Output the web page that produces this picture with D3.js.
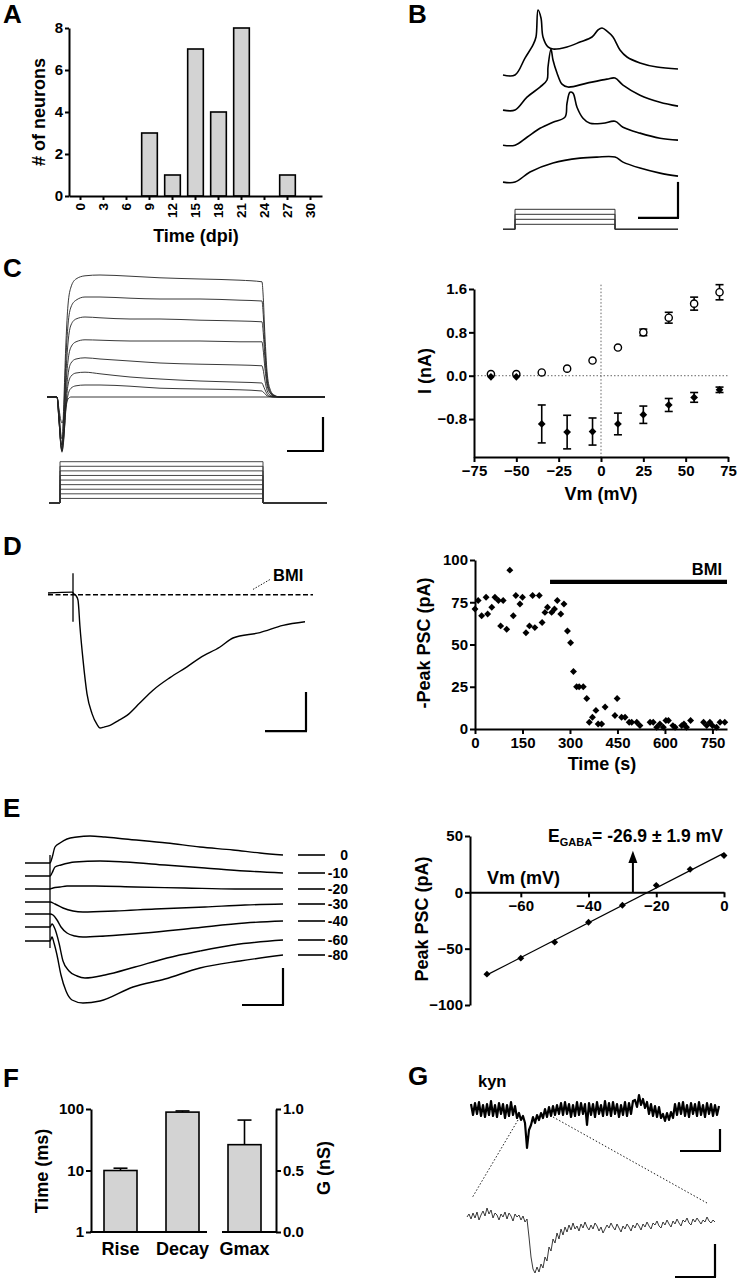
<!DOCTYPE html>
<html><head><meta charset="utf-8">
<script src="https://cdn.jsdelivr.net/npm/d3@7"></script>
<style>
body{margin:0;background:#fff}
svg text{font-family:"Liberation Sans",Arial,Helvetica,sans-serif;font-weight:bold;fill:#000}
</style></head><body>
<svg id="fig" width="737" height="1280" xmlns="http://www.w3.org/2000/svg"></svg>
<script>
// ================= DATA =================
// Panel A: histogram
const aCategories = ["0","3","6","9","12","15","18","21","24","27","30"];
const aCounts = [0,0,0,3,1,7,4,8,0,1,0];
const aYTicks = [0,2,4,6,8];

// Panel B: voltage traces [time ms, mV above own baseline]
const bTrace1 = [[0,0],[24,0],[44,9.4],[60,16.7],[66,21.1],[70,36.1],[76,31.7],[80,21.1],[90,15.6],[100,14.4],[128,15.6],[154,18.3],[178,21.1],[190,25],[198,26.1],[208,24.4],[220,21.1],[234,13.9],[248,10],[274,6.7],[308,4.4],[350,3.3]];
const bTrace2 = [[0,0],[24,0],[48,7.2],[74,12.8],[88,16.7],[90,23.9],[96,33.9],[100,27.8],[108,20.6],[118,14.4],[130,12.8],[168,15],[208,17.2],[224,17.8],[240,13.9],[274,8.3],[314,4.4],[350,2.2]];
const bTrace3 = [[0,0],[24,0],[48,4.4],[74,9.4],[100,12.8],[124,15.6],[128,23.3],[134,29.4],[140,28.9],[148,21.1],[160,15],[174,12.2],[200,12.2],[224,13.3],[240,10],[274,6.7],[314,3.9],[350,2.8]];
const bTrace4 = [[0,0],[24,0],[54,5.6],[100,10.6],[154,13.3],[188,13.9],[224,13.9],[240,11.1],[274,7.8],[314,5],[350,3.3]];
const bOffsets = [0,-19.5,-39,-59.5];
const bSteps = [10,20,30,40];          // injected current steps (pA)
const bStepOn = 24, bStepOff = 224, bEnd = 350;

// Panel C left: current traces, shared time base (ms) and amplitudes (nA)
const cTime = [0,10,12,14,15,16,17,19,21,24,29,38,53,83,113,153,193,215,216,218,220,223,227,233,278];
const cTrace1 = [0,0,-0.6,-1.15,-1.2,-0.7,0.0,1.4,2.3,2.75,2.95,3.03,3.05,3.02,2.98,2.95,2.92,2.88,2.6,1.5,0.65,0.2,0.05,0,0];
const cTrace2 = [0,0,-0.6,-1.2,-1.3,-0.9,-0.3,1.0,1.8,2.25,2.42,2.5,2.5,2.47,2.45,2.45,2.42,2.4,2.15,1.2,0.5,0.15,0.04,0,0];
const cTrace3 = [0,0,-0.6,-1.25,-1.35,-1.1,-0.6,0.6,1.35,1.8,1.95,2.0,1.98,1.95,1.95,1.92,1.9,1.88,1.68,0.95,0.4,0.12,0.03,0,0];
const cTrace4 = [0,0,-0.55,-1.25,-1.38,-1.2,-0.8,0.3,0.9,1.25,1.38,1.43,1.42,1.4,1.4,1.4,1.38,1.38,1.22,0.7,0.3,0.1,0.02,0,0];
const cTrace5 = [0,0,-0.5,-1.2,-1.35,-1.25,-1.0,0.0,0.55,0.85,0.95,0.98,0.95,0.9,0.85,0.82,0.8,0.78,0.7,0.4,0.17,0.05,0.01,0,0];
const cTrace6 = [0,0,-0.45,-1.1,-1.2,-1.15,-0.95,-0.2,0.3,0.52,0.6,0.62,0.58,0.5,0.45,0.4,0.37,0.35,0.3,0.18,0.08,0.02,0,0,0];
const cTrace7 = [0,0,-0.4,-0.95,-1.05,-1.0,-0.85,-0.3,0.05,0.22,0.28,0.3,0.3,0.27,0.22,0.2,0.18,0.15,0.13,0.08,0.03,0.01,0,0,0];
const cTrace8 = [0,0,-0.3,-0.6,-0.65,-0.6,-0.5,-0.2,-0.05,0,0,0,0,0,0,0,0,0,0,0,0,0,0,0,0];
const cSteps = [15,30,45,60,75,90,105,120,135];   // mV above holding
const cStepOn = 13, cStepOff = 216, cStimStart = 2, cStimEnd = 280;

// Panel C right: I-V
const ivVm = [-65,-50,-35,-20,-5,10,25,40,55,70];
const ivOut = [0.03,0.03,0.06,0.13,0.28,0.52,0.80,1.07,1.33,1.54];
const ivOutErr = [0,0,0,0,0,0,0.06,0.10,0.12,0.14];
const ivIn = [-0.02,-0.02,-0.89,-1.04,-1.03,-0.89,-0.72,-0.54,-0.40,-0.26];
const ivInErr = [0,0,0.35,0.31,0.25,0.20,0.16,0.12,0.09,0.05];
const ivXTicks = [-75,-50,-25,0,25,50,75];
const ivYTicks = [-0.8,0,0.8,1.6];

// Panel D left: PSC traces [ms, pA]
const dControl = [[0,0],[24,0.5],[26,-0.5],[28,-1.5],[30,-4],[32,-19],[35,-37],[39,-56],[44,-67],[49,-73],[52,-75],[56,-74.5],[62,-73.5],[70,-71],[79,-68],[92,-61],[105,-54],[122,-47],[139,-41],[152,-36],[172,-30],[185,-25],[212,-22],[235,-18],[257,-16]];
const dBmi = [[0,-1],[265,-1]];
// Panel D right: time course
const dTime = [0,10,21,35,40,53,63,74,81,89,100,110,121,129,142,150,161,172,182,189,203,212,221,229,242,251,260,271,281,292,302,311,321,329,342,353,361,371,382,389,400,411,442,449,463,474,487,495,511,521,553,563,574,584,595,603,611,625,632,653,660,668,681,722,732,742,750,763,774,789];
const dPeak = [71,76,67,78,68,72,78,76,61,76,59,94,67,79,74,78,57,61,79,60,79,63,69,72,69,71,76,68,74,58,51,34,25,25,25,18,4,7,11,3,3,13,8,18,7,7,4,4,4,2,4,4,1,3,1,5,5,2,1,2,3,1,5,4,2,4,2,1,4,4];
const dBmiStart = 237, dBmiLevel = 87;
const dXTicks = [0,150,300,450,600,750];
const dYTicks = [0,25,50,75,100];

// Panel E left: PSCs at holding potentials [ms, pA]
const eLabels = ["0","-10","-20","-30","-40","-60","-80"];
const eTr0  = [[0,0],[25,0],[27,5],[30,16],[35,20],[42,24],[52,26],[65,27],[80,26],[100,24],[142,20],[175,16],[208,13],[235,10],[258,8]];
const eTr10 = [[0,-13],[25,-13],[27,-10],[30,-4],[36,-2],[50,1],[75,2],[100,1],[140,-2],[180,-5],[220,-8],[258,-10]];
const eTr20 = [[0,-26],[25,-26],[28,-25],[35,-24],[42,-23],[70,-23],[110,-24],[160,-25],[210,-26],[258,-26]];
const eTr30 = [[0,-39],[25,-39],[30,-41],[38,-45],[48,-48],[58,-49],[90,-48],[130,-46],[180,-44],[220,-42],[258,-41]];
const eTr40 = [[0,-51],[25,-51],[28,-52],[32,-57],[36,-64],[42,-70],[50,-73],[58,-74],[80,-73],[120,-70],[170,-65],[220,-60],[258,-58]];
const eTr60 = [[0,-64],[25,-64],[27,-61],[30,-66],[34,-80],[38,-98],[44,-108],[52,-113],[60,-115],[80,-112],[110,-104],[142,-95],[175,-88],[208,-82],[258,-77]];
const eTr80 = [[0,-78],[25,-78],[27,-74],[29,-80],[32,-92],[36,-112],[41,-128],[47,-137],[58,-140],[75,-138],[108,-124],[140,-116],[175,-105],[215,-98],[258,-92]];
// Panel E right: peak vs Vm
const eVm = [-70,-60,-50,-40,-30,-20,-10,0];
const ePeak = [-72.6,-58.4,-44.2,-26.5,-11.5,6.2,20.4,32.7];
const eGaba = -26.9;
const eXTicks = [-60,-40,-20,0];
const eYTicks = [-100,-50,0,50];

// Panel F: kinetics
const fCategories = ["Rise","Decay","Gmax"];
const fTimeVals = [10.0, 89];
const fTimeErr = [0.9, 4];
const fGmax = 0.71, fGmaxErr = 0.20;

// Panel G: kynurenate traces (sampled every 2 ms)
const gDt = 2;
const gTop = [6,-5,7,-4,8,-6,5,-7,6,-5,9,-6,5,-7,7,-4,6,-8,5,-6,8,-5,4,-8,
  -3,-10,-6,-13,-38,-20,-15,-7,-13,-5,-10,-3,-8,1,-7,3,-6,4,-5,5,-4,
  7,-5,8,-4,6,-7,5,-6,8,-5,7,-4,6,-15,
  7,-5,6,-7,8,-4,5,-6,9,-5,7,-6,8,-4,6,-7,5,-5,8,-6,7,-4,9,
  10,3,15,5,11,2,8,-4,6,-6,4,-7,3,-8,-4,-11,-3,-10,-2,-8,
  6,-5,7,-4,8,-6,5,-7,7,-4,6,-6,8,-5,5,-7,7,-4,6,-6,5,-5,4];
const gBottom = [0,3,-2,4,-1,5,-3,2,6,1,9,3,7,-1,4,2,-3,3,0,5,-2,4,1,-4,3,0,2,-3,1,-5,-2,
  -20,-40,-52,-56,-50,-55,-47,-51,-40,-44,-30,-34,-22,-26,-16,-22,-12,-18,-10,-15,
  -8,-13,-6,-12,-9,-14,-7,-11,-5,-10,-13,-8,-12,-6,-9,-14,-10,-16,-12,-8,
  -11,-6,-10,-13,-7,-11,-15,-9,-12,-7,-10,-14,-8,-11,-6,-9,-13,-7,-10,-5,
  -9,-12,-6,-8,-4,-9,-11,-5,-8,-3,-7,-10,-4,-7,-2,-6,-9,-3,-5,-1,
  -6,-8,-2,-5,-1,-4,-7,-3,-5,0,-4,-6,-3,-5];

// ================= DRAWING =================
const FONT = '"Liberation Sans", Arial, Helvetica, sans-serif';
const svg = d3.select("#fig");
const TICK_FS = 15, TITLE_FS = 18;

function styleAxis(g, fs) {
  g.attr("font-family", FONT).attr("font-size", fs).attr("font-weight", "bold");
  g.select(".domain").attr("stroke", "#000").attr("stroke-width", 2);
  g.selectAll(".tick line").attr("stroke", "#000").attr("stroke-width", 2);
  g.selectAll(".tick text").attr("fill", "#000");
  return g;
}
function text(g, x, y, s, size, anchor = "start", rot = 0) {
  const t = g.append("text").attr("font-size", size).attr("text-anchor", anchor)
    .attr("transform", `translate(${x},${y}) rotate(${rot})`).text(s);
  return t;
}
function pathLine(g, xs, ys, data, w, color = "#000", curve = d3.curveMonotoneX) {
  return g.append("path").datum(data)
    .attr("d", d3.line().x(d => xs(d[0])).y(d => ys(d[1])).curve(curve))
    .attr("fill", "none").attr("stroke", color).attr("stroke-width", w)
    .attr("stroke-linejoin", "round");
}
function segment(g, x1, y1, x2, y2, w, color = "#000", dash = null) {
  const l = g.append("line").attr("x1", x1).attr("y1", y1).attr("x2", x2).attr("y2", y2)
    .attr("stroke", color).attr("stroke-width", w);
  if (dash) l.attr("stroke-dasharray", dash);
  return l;
}
const diamond = d3.symbol().type(d3.symbolSquare).size(24);
const diamondBig = d3.symbol().type(d3.symbolSquare).size(30);

// Panel letters
const letters = svg.append("g");
[["A",3,23],["B",408,23],["C",3,277],["D",3,555],["E",3,817],["F",3,1087],["G",408,1085]]
  .forEach(([s, x, y]) => text(letters, x, y, s, 26));

// ---------- Panel A ----------
{
  const g = svg.append("g");
  const x = d3.scaleBand().domain(aCategories).range([69, 322]);
  const y = d3.scaleLinear().domain([0, 8]).range([196, 28]);
  const bw = x.bandwidth() * 0.68;
  g.selectAll("rect").data(aCategories.map((c, i) => ({c, v: aCounts[i]})).filter(d => d.v > 0))
    .join("rect")
    .attr("x", d => x(d.c) + (x.bandwidth() - bw) / 2).attr("width", bw)
    .attr("y", d => y(d.v)).attr("height", d => y(0) - y(d.v))
    .attr("fill", "#d3d3d3").attr("stroke", "#000").attr("stroke-width", 1.6);
  const ya = g.append("g").attr("transform", "translate(69,0)")
    .call(d3.axisLeft(y).tickValues(aYTicks).tickSize(4).tickSizeOuter(0).tickPadding(2));
  styleAxis(ya, TICK_FS);
  const xa = g.append("g").attr("transform", "translate(0,196)")
    .call(d3.axisBottom(x).tickSize(4).tickSizeOuter(0));
  styleAxis(xa, 13.5);
  xa.selectAll(".tick text").attr("transform", "rotate(-90)").attr("text-anchor", "end")
    .attr("x", -7).attr("y", 0).attr("dy", "0.36em");
  text(g, 196, 242, "Time (dpi)", TITLE_FS, "middle");
  text(g, 45, 112, "# of neurons", TITLE_FS, "middle", -90);
}

// ---------- Panel B ----------
{
  const g = svg.append("g");
  const x = d3.scaleLinear().domain([0, bEnd]).range([503, 678]);
  const y = d3.scaleLinear().domain([0, -60]).range([75, 183]);
  [bTrace1, bTrace2, bTrace3, bTrace4].forEach((tr, k) =>
    pathLine(g, x, y, tr.map(d => [d[0], d[1] + bOffsets[k]]), 1.6, "#000", d3.curveCatmullRom));
  const s = d3.scaleLinear().domain([0, 40]).range([229.3, 209.3]);
  bSteps.forEach(a => pathLine(g, x, s,
    [[0,0],[bStepOn,0],[bStepOn,a],[bStepOff,a],[bStepOff,0],[bEnd,0]], 1, "#333", d3.curveLinear));
  segment(g, x(bEnd), y(-59.4), x(bEnd), y(-79.4), 2.2);
  segment(g, x(bEnd - 80), y(-79.4), x(bEnd) + 1, y(-79.4), 2.2);
}

// ---------- Panel C left ----------
{
  const g = svg.append("g");
  const x = d3.scaleLinear().domain([0, 280]).range([47, 327]);
  const y = d3.scaleLinear().domain([0, 1]).range([397, 357]);
  [cTrace8, cTrace7, cTrace6, cTrace5, cTrace4, cTrace3, cTrace2, cTrace1].forEach(tr =>
    pathLine(g, x, y, d3.zip(cTime, tr), 0.9, "#222"));
  const s = d3.scaleLinear().domain([0, 135]).range([503, 461.7]);
  cSteps.forEach(a => pathLine(g, x, s,
    [[cStimStart,0],[cStepOn,0],[cStepOn,a],[cStepOff,a],[cStepOff,0],[cStimEnd,0]], 0.9, "#333", d3.curveLinear));
  segment(g, x(276), y(-0.5), x(276), y(-1.35), 2.2);
  segment(g, x(240), y(-1.35), x(276) + 1, y(-1.35), 2.2);
}

// ---------- Panel C right ----------
{
  const g = svg.append("g");
  const x = d3.scaleLinear().domain([-75, 75]).range([474, 728]);
  const y = d3.scaleLinear().domain([-1.5, 1.6]).range([457, 289]);
  segment(g, x(-75), y(0), x(75), y(0), 0.9, "#555", "1.5,2");
  segment(g, x(0), y(1.68), x(0), y(-1.5), 0.9, "#555", "1.5,2");
  const ya = g.append("g").attr("transform", `translate(${x(-75)},0)`)
    .call(d3.axisLeft(y).tickValues(ivYTicks).tickFormat(d3.format(".1f")).tickSize(5).tickSizeOuter(0).tickPadding(2));
  styleAxis(ya, TICK_FS);
  const xa = g.append("g").attr("transform", `translate(0,${y(-1.5)})`)
    .call(d3.axisBottom(x).tickValues(ivXTicks).tickSize(5).tickSizeOuter(0).tickPadding(3));
  styleAxis(xa, TICK_FS);
  const eb = (vals, errs) => vals.forEach((v, i) => {
    if (!errs[i]) return;
    const cx = x(ivVm[i]);
    segment(g, cx, y(v - errs[i]), cx, y(v + errs[i]), 1.6);
    segment(g, cx - 4, y(v - errs[i]), cx + 4, y(v - errs[i]), 1.6);
    segment(g, cx - 4, y(v + errs[i]), cx + 4, y(v + errs[i]), 1.6);
  });
  eb(ivOut, ivOutErr); eb(ivIn, ivInErr);
  g.selectAll("circle").data(ivVm).join("circle")
    .attr("cx", d => x(d)).attr("cy", (d, i) => y(ivOut[i])).attr("r", 3.6)
    .attr("fill", "#fff").attr("stroke", "#000").attr("stroke-width", 1.4);
  g.selectAll("path.dm").data(ivVm).join("path").attr("class", "dm")
    .attr("d", diamondBig).attr("fill", "#000")
    .attr("transform", (d, i) => `translate(${x(d)},${y(ivIn[i])}) rotate(45)`);
  text(g, 431, 371, "I (nA)", TITLE_FS, "middle", -90);
  text(g, 601, 500, "Vm (mV)", TITLE_FS, "middle");
}

// ---------- Panel D left ----------
{
  const g = svg.append("g");
  const x = d3.scaleLinear().domain([0, 265]).range([48, 313]);
  const y = d3.scaleLinear().domain([0, -75]).range([593, 728]);
  pathLine(g, x, y, dBmi, 1.4, "#000", d3.curveLinear).attr("stroke-dasharray", "5,2.5");
  pathLine(g, x, y, dControl, 1.4);
  segment(g, x(25), y(11), x(25), y(-16), 1.3);
  segment(g, x(205), y(2), x(222), y(7.5), 0.9, "#000", "1.5,1.5");
  text(g, x(225), 581, "BMI", 16.5);
  segment(g, x(258), y(-55), x(258), y(-76.7), 2.2);
  segment(g, x(217), y(-76.7), x(258) + 1, y(-76.7), 2.2);
}

// ---------- Panel D right ----------
{
  const g = svg.append("g");
  const x = d3.scaleLinear().domain([0, 796]).range([475, 727]);
  const y = d3.scaleLinear().domain([0, 100]).range([729, 560]);
  const ya = g.append("g").attr("transform", `translate(${x(0)},0)`)
    .call(d3.axisLeft(y).tickValues(dYTicks).tickSize(5).tickSizeOuter(0).tickPadding(2));
  styleAxis(ya, TICK_FS);
  const xa = g.append("g").attr("transform", `translate(0,${y(0)})`)
    .call(d3.axisBottom(x).tickValues(dXTicks).tickSize(5).tickSizeOuter(0).tickPadding(3));
  styleAxis(xa, TICK_FS);
  g.selectAll("path.dm").data(dTime).join("path").attr("class", "dm")
    .attr("d", diamond).attr("fill", "#000")
    .attr("transform", (d, i) => `translate(${x(d)},${y(dPeak[i])}) rotate(45)`);
  segment(g, x(dBmiStart), y(dBmiLevel), x(796), y(dBmiLevel), 4.2);
  text(g, 722, 575, "BMI", 16.5, "end");
  text(g, 430, 643, "-Peak PSC (pA)", TITLE_FS, "middle", -90);
  text(g, 602, 770, "Time (s)", TITLE_FS, "middle");
}

// ---------- Panel E left ----------
{
  const g = svg.append("g");
  const x = d3.scaleLinear().domain([0, 258]).range([25, 283]);
  const y = d3.scaleLinear().domain([0, -100]).range([863, 963]);
  const traces = [eTr0, eTr10, eTr20, eTr30, eTr40, eTr60, eTr80];
  traces.forEach(tr => pathLine(g, x, y, tr, 1.4));
  segment(g, x(25), y(8), x(25), y(-85), 1.3);
  traces.forEach((tr, i) => {
    const v = tr[tr.length - 1][1];
    segment(g, 298, y(v), 325, y(v), 1.6);
    text(g, 348, y(v), eLabels[i], 14, "end").attr("dy", "0.36em");
  });
  segment(g, x(258), y(-105), x(258), y(-142), 2.2);
  segment(g, x(217), y(-142), x(258) + 1, y(-142), 2.2);
}

// ---------- Panel E right ----------
{
  const g = svg.append("g");
  const x = d3.scaleLinear().domain([-75, 0]).range([470, 724]);
  const y = d3.scaleLinear().domain([-100, 50]).range([1005, 836]);
  const ya = g.append("g").attr("transform", `translate(${x(-75)},0)`)
    .call(d3.axisLeft(y).tickValues(eYTicks).tickSize(5).tickSizeOuter(0).tickPadding(2));
  styleAxis(ya, TICK_FS);
  const xa = g.append("g").attr("transform", `translate(0,${y(0)})`)
    .call(d3.axisBottom(x).tickValues(eXTicks).tickSize(5).tickSizeOuter(0).tickPadding(3));
  styleAxis(xa, TICK_FS);
  const mx = d3.mean(eVm), my = d3.mean(ePeak);
  const slope = d3.sum(eVm, (v, i) => (v - mx) * (ePeak[i] - my)) / d3.sum(eVm, v => (v - mx) ** 2);
  const icpt = my - slope * mx;
  const xs = [d3.min(eVm), d3.max(eVm)];
  segment(g, x(xs[0]), y(slope * xs[0] + icpt), x(xs[1]), y(slope * xs[1] + icpt), 1.2);
  g.selectAll("path.dm").data(eVm).join("path").attr("class", "dm")
    .attr("d", diamond).attr("fill", "#000")
    .attr("transform", (d, i) => `translate(${x(d)},${y(ePeak[i])}) rotate(45)`);
  const ax = x(eGaba);
  segment(g, ax, y(0), ax, y(28), 2);
  g.append("path").attr("d", `M${ax},${y(37)} L${ax - 4.5},${y(26)} L${ax + 4.5},${y(26)} Z`).attr("fill", "#000");
  const t = g.append("text").attr("x", 548).attr("y", 842).attr("font-size", 17.5);
  t.append("tspan").text("E");
  t.append("tspan").attr("font-size", 11).attr("dy", 4).text("GABA");
  t.append("tspan").attr("dy", -4).text("= -26.9 \u00B1 1.9 mV");
  text(g, 487, 884, "Vm (mV)", TITLE_FS);
  text(g, 428, 919, "Peak PSC (pA)", TITLE_FS, "middle", -90);
}

// ---------- Panel F ----------
{
  const g = svg.append("g");
  const x = d3.scaleBand().domain(fCategories).range([89.5, 275.5]);
  const yL = d3.scaleLog().domain([1, 100]).range([1232, 1109]);
  const yR = d3.scaleLinear().domain([0, 1]).range([1232, 1109]);
  const bw = 33;
  const bx = c => x(c) + (x.bandwidth() - bw) / 2;
  const bars = [
    {c: "Rise", top: yL(fTimeVals[0]), err: yL(fTimeVals[0] + fTimeErr[0])},
    {c: "Decay", top: yL(fTimeVals[1]), err: yL(fTimeVals[1] + fTimeErr[1])},
    {c: "Gmax", top: yR(fGmax), err: yR(fGmax + fGmaxErr)}
  ];
  bars.forEach(b => {
    const cx = bx(b.c) + bw / 2;
    segment(g, cx, b.top, cx, b.err, 1.6);
    segment(g, cx - 7, b.err, cx + 7, b.err, 1.6);
  });
  g.selectAll("rect").data(bars).join("rect")
    .attr("x", d => bx(d.c)).attr("width", bw)
    .attr("y", d => d.top).attr("height", d => 1232 - d.top)
    .attr("fill", "#d3d3d3").attr("stroke", "#000").attr("stroke-width", 1.6);
  const ya = g.append("g").attr("transform", "translate(91,0)")
    .call(d3.axisLeft(yL).tickValues([1, 10, 100]).tickFormat(d3.format("d")).tickSize(5).tickSizeOuter(0).tickPadding(2));
  styleAxis(ya, TICK_FS);
  const yb = g.append("g").attr("transform", "translate(276,0)")
    .call(d3.axisRight(yR).tickValues([0, 0.5, 1]).tickFormat(d3.format(".1f")).tickSize(5).tickSizeOuter(0).tickPadding(2));
  styleAxis(yb, TICK_FS);
  segment(g, 90, 1232, bx("Decay") + bw + 8, 1232, 2);
  segment(g, bx("Gmax") - 6, 1232, 277, 1232, 2);
  fCategories.forEach(c => text(g, x(c) + x.bandwidth() / 2, 1255, c, TITLE_FS, "middle"));
  text(g, 48, 1171, "Time (ms)", TITLE_FS, "middle", -90);
  text(g, 330, 1168, "G (nS)", TITLE_FS, "middle", -90);
}

// ---------- Panel G ----------
{
  const g = svg.append("g");
  text(g, 478, 1087, "kyn", 16.5);
  const x1 = d3.scaleLinear().domain([0, 248]).range([471, 719]);
  const y1 = d3.scaleLinear().domain([0, -100]).range([1110, 1210]);
  pathLine(g, x1, y1, gTop.map((v, i) => [i * gDt, v]), 2.2, "#000", d3.curveLinear);
  const x2 = d3.scaleLinear().domain([0, 248]).range([467, 715]);
  const y2 = d3.scaleLinear().domain([0, -100]).range([1217, 1317]);
  pathLine(g, x2, y2, gBottom.map((v, i) => [i * gDt, v]), 0.9, "#222", d3.curveLinear);
  segment(g, x1(47), y1(-10), x2(5), y2(19), 0.9, "#000", "1.5,2");
  segment(g, x1(82), y1(-7), x2(240), y2(14), 0.9, "#000", "1.5,2");
  segment(g, x1(249), y1(-19), x1(249), y1(-41), 2.2);
  segment(g, x1(209), y1(-41), x1(249) + 1, y1(-41), 2.2);
  segment(g, x2(248), y2(-27), x2(248), y2(-60), 2.2);
  segment(g, x2(208), y2(-60), x2(248) + 1, y2(-60), 2.2);
}
</script>
</body></html>
